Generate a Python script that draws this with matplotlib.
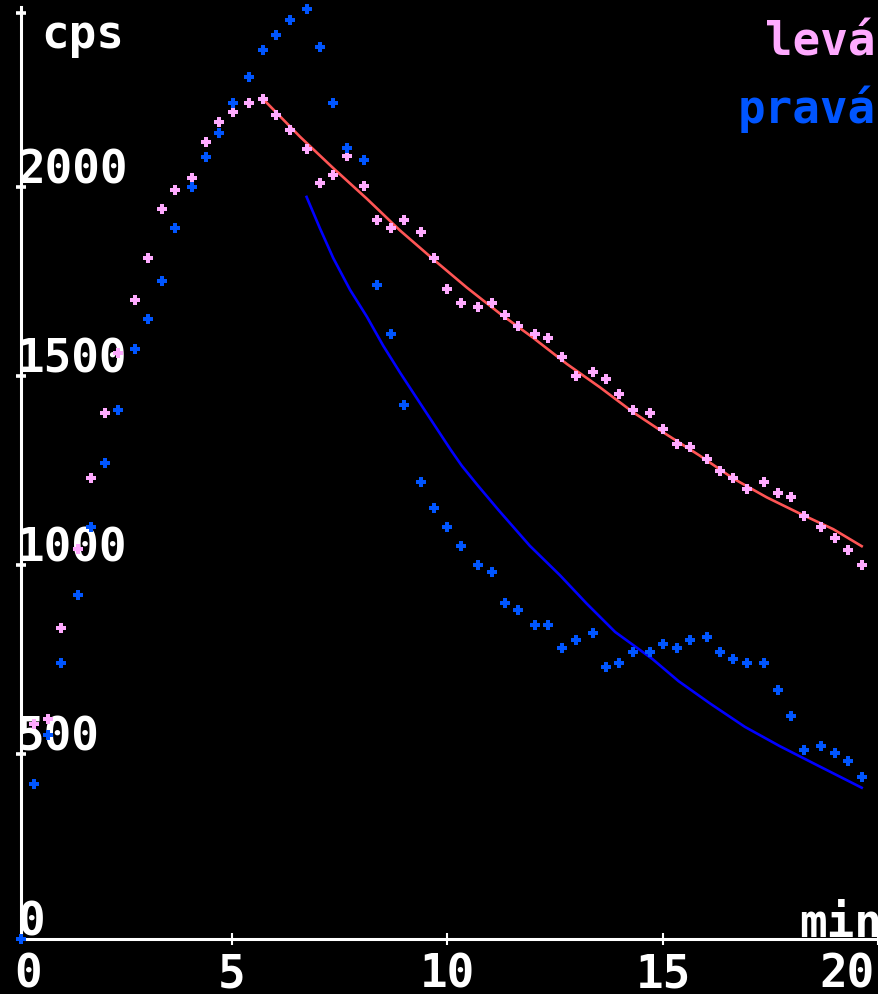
import matplotlib
matplotlib.use("Agg")
import matplotlib.pyplot as plt

# ---- data ----
time_min = [0.10, 0.41, 0.72, 1.03, 1.43, 1.73, 2.05, 2.35, 2.75, 3.05,
            3.38, 3.68, 4.07, 4.40, 4.70, 5.02, 5.39, 5.72, 6.02, 6.35,
            6.73, 7.04, 7.35, 7.67, 8.06, 8.36, 8.68, 8.99, 9.38, 9.69,
            10.00, 10.31, 10.70, 11.03, 11.33, 11.64, 12.03, 12.34, 12.66, 12.98,
            13.37, 13.68, 13.99, 14.30, 14.70, 14.99, 15.32, 15.63, 16.01, 16.32,
            16.63, 16.94, 17.34, 17.66, 17.97, 18.28, 18.66, 18.99, 19.30, 19.61]

leva_cps = [10, 579, 592, 833, 1042, 1229, 1401, 1560, 1700, 1811,
            1941, 1991, 2023, 2118, 2171, 2198, 2221, 2232, 2190, 2151,
            2100, 2011, 2031, 2081, 2002, 1912, 1890, 1912, 1881, 1811,
            1730, 1692, 1681, 1692, 1661, 1631, 1610, 1601, 1550, 1499,
            1511, 1490, 1452, 1409, 1401, 1359, 1319, 1311, 1280, 1249,
            1230, 1199, 1220, 1190, 1180, 1129, 1099, 1070, 1039, 999]

prava_cps = [10, 420, 549, 740, 920, 1100, 1269, 1409, 1571, 1650,
             1750, 1891, 1999, 2079, 2142, 2221, 2290, 2362, 2401, 2441,
             2470, 2370, 2221, 2102, 2071, 1740, 1610, 1422, 1220, 1149,
             1099, 1050, 999, 980, 899, 879, 840, 840, 779, 800,
             820, 730, 739, 770, 770, 789, 779, 801, 810, 770,
             750, 739, 739, 669, 600, 510, 520, 501, 481, 439]

leva_fit_t = [5.72, 6.58, 7.35, 8.13, 8.90, 9.67, 10.45, 11.22, 11.99, 12.77,
              13.54, 14.31, 15.09, 15.86, 16.63, 17.41, 18.18, 18.95, 19.61]
leva_fit_cps = [2232, 2132, 2049, 1968, 1884, 1808, 1733, 1664, 1600, 1531,
                1469, 1403, 1344, 1288, 1228, 1178, 1135, 1094, 1049]

prava_fit_t = [6.73, 7.04, 7.35, 7.74, 8.13, 8.51, 8.90, 9.29, 10.08, 10.33,
               10.70, 11.18, 11.91, 12.61, 13.23, 13.89, 14.76, 15.36, 16.09,
               16.90, 17.71, 18.57, 19.61]
prava_fit_cps = [1973, 1890, 1811, 1727, 1656, 1579, 1508, 1440, 1303, 1262,
                 1210, 1145, 1050, 972, 897, 822, 750, 692, 633,
                 571, 520, 470, 410]

y_ticks = [500, 1000, 1500, 2000]
y_ticklabels = ["500", "1000", "1500", "2000"]
x_ticks = [5, 10, 15, 20]
x_ticklabels = ["0", "5", "10", "15", "20"]
x_label_pos = [0, 5, 10, 15, 20]

# ---- styling ----
W, H = 879, 994
X0PX, XSC = 16.5, 43.1      # pixel of t=0, pixels per minute
Y0PX, YSC = 942.7, 0.378    # pixel of cps=0, pixels per cps

def P(px, py):
    return ((px - X0PX) / XSC, (Y0PX - py) / YSC)

PINK = "#FFAAFF"
BLUE = "#0055FF"
RED_LINE = "#FF5555"
BLUE_LINE = "#0000FF"
FONT = dict(family=["DejaVu Sans Mono"], weight="bold", size=33)

fig = plt.figure(figsize=(W / 100, H / 100), dpi=100, facecolor="black")
ax = fig.add_axes([0, 0, 1, 1], facecolor="black")
ax.set_xlim(P(0, 0)[0], P(W, 0)[0])
ax.set_ylim(P(0, H)[1], P(0, 0)[1])

xa = P(20.7, 0)[0]
ya = P(0, 939.3)[1]
ytop = P(0, 7)[1]
ytop_tick = P(0, 12.7)[1]

for s in ["top", "right"]:
    ax.spines[s].set_visible(False)
ax.spines["left"].set_position(("data", xa))
ax.spines["bottom"].set_position(("data", ya))
ax.spines["left"].set_bounds(ya, ytop)
ax.spines["bottom"].set_bounds(xa, P(W, 0)[0])
for s in ["left", "bottom"]:
    ax.spines[s].set_color("white")
    ax.spines[s].set_linewidth(2.2)

ax.set_yticks(y_ticks + [ytop_tick])
ax.set_xticks(x_ticks)
ax.tick_params(axis="y", direction="inout", length=7.5, width=2.6, color="white",
               labelleft=False)
ax.tick_params(axis="x", direction="inout", length=8, width=1.5, color="white",
               labelbottom=False)

# y tick labels
for v, lab in zip(y_ticks, y_ticklabels):
    ty = Y0PX - v * YSC - 3.5
    ax.text(*P(17, ty), lab, color="white", ha="left", va="baseline", zorder=1, **FONT)
ax.text(*P(17, 935), "0", color="white", ha="left", va="baseline", zorder=1, **FONT)

# x tick labels
for v, lab in zip(x_label_pos, x_ticklabels):
    px = X0PX + v * XSC
    ha = "center"
    if v == 0:
        px = 28
    if v == 20:
        px, ha = 875, "right"
    ax.text(P(px, 0)[0], P(0, 988)[1], lab, color="white", ha=ha, va="baseline",
            zorder=1, **FONT)

ax.text(*P(41, 48), "cps", color="white", ha="left", va="baseline", zorder=1, **FONT)
ax.text(*P(882, 936.7), "min", color="white", ha="right", va="baseline", zorder=1, **FONT)
ax.text(*P(876, 55), "levá", color=PINK, ha="right", va="baseline", zorder=1, **FONT)
ax.text(*P(876, 123), "pravá", color=BLUE, ha="right", va="baseline", zorder=1, **FONT)

# fit curves
ax.plot(leva_fit_t, leva_fit_cps, color=RED_LINE, lw=1.9, zorder=2, clip_on=False)
ax.plot(prava_fit_t, prava_fit_cps, color=BLUE_LINE, lw=1.9, zorder=2, clip_on=False)

# data points
ax.plot(time_min, leva_cps, ls="none", marker="P", ms=7.4, mew=0, color=PINK,
        zorder=3, clip_on=False)
ax.plot(time_min, prava_cps, ls="none", marker="P", ms=7.4, mew=0, color=BLUE,
        zorder=4, clip_on=False)

fig.savefig("out.png", dpi=100, facecolor="black")
